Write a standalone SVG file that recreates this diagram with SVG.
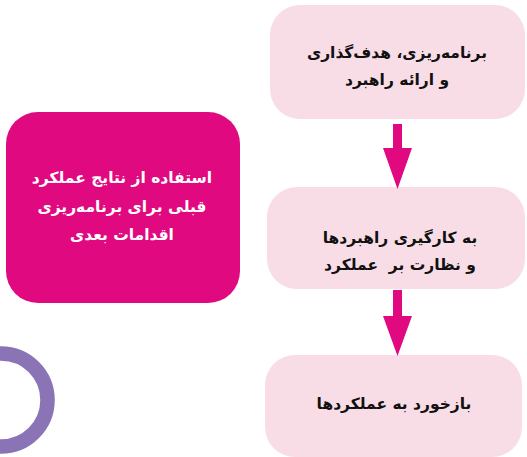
<svg xmlns="http://www.w3.org/2000/svg" width="527" height="457" viewBox="0 0 527 457">
<style>
.box{fill:#f9dde6}
.mag{fill:#e1097f}
.t{font-family:"DejaVu Sans","Noto Sans",sans-serif;font-weight:bold;font-size:15.5px;text-anchor:middle;direction:rtl;fill:#111;white-space:pre}
.w{fill:#ffffff}
.arr{fill:#e1097f}
</style>
<rect width="527" height="457" fill="#ffffff"/>
<g id="ring">
<circle cx="1" cy="400" r="46.5" fill="none" stroke="#8b74b5" stroke-width="14.5"/>
</g>
<g id="node-left">
<rect class="mag" x="6" y="112" width="234" height="191" rx="32"/>
<text class="t w" x="122" y="183">استفاده از نتایج عملکرد</text>
<text class="t w" x="122" y="212">قبلی برای برنامه‌ریزی</text>
<text class="t w" x="122" y="240">اقدامات بعدی</text>
</g>
<g id="node-1">
<rect class="box" x="270" y="5" width="255" height="114" rx="30"/>
<text class="t" x="397" y="58">برنامه‌ریزی، هدف‌گذاری</text>
<text class="t" x="397" y="85">و ارائه راهبرد</text>
</g>
<g id="node-2">
<rect class="box" x="267" y="187" width="258" height="102" rx="30"/>
<text class="t" x="400" y="243">به کارگیری راهبردها</text>
<text class="t" x="400" y="270" xml:space="preserve">و نظارت بر  عملکرد</text>
</g>
<g id="node-3">
<rect class="box" x="265" y="355" width="257" height="102" rx="30"/>
<text class="t" x="394" y="409">بازخورد به عملکردها</text>
</g>
<g id="connectors">
<polygon class="arr" points="393,124 402,124 402,148 412,148 397.5,189 383,148 393,148"/>
<polygon class="arr" points="393,290 402,290 402,316 412,316 397.5,356 383,316 393,316"/>
</g>
</svg>
